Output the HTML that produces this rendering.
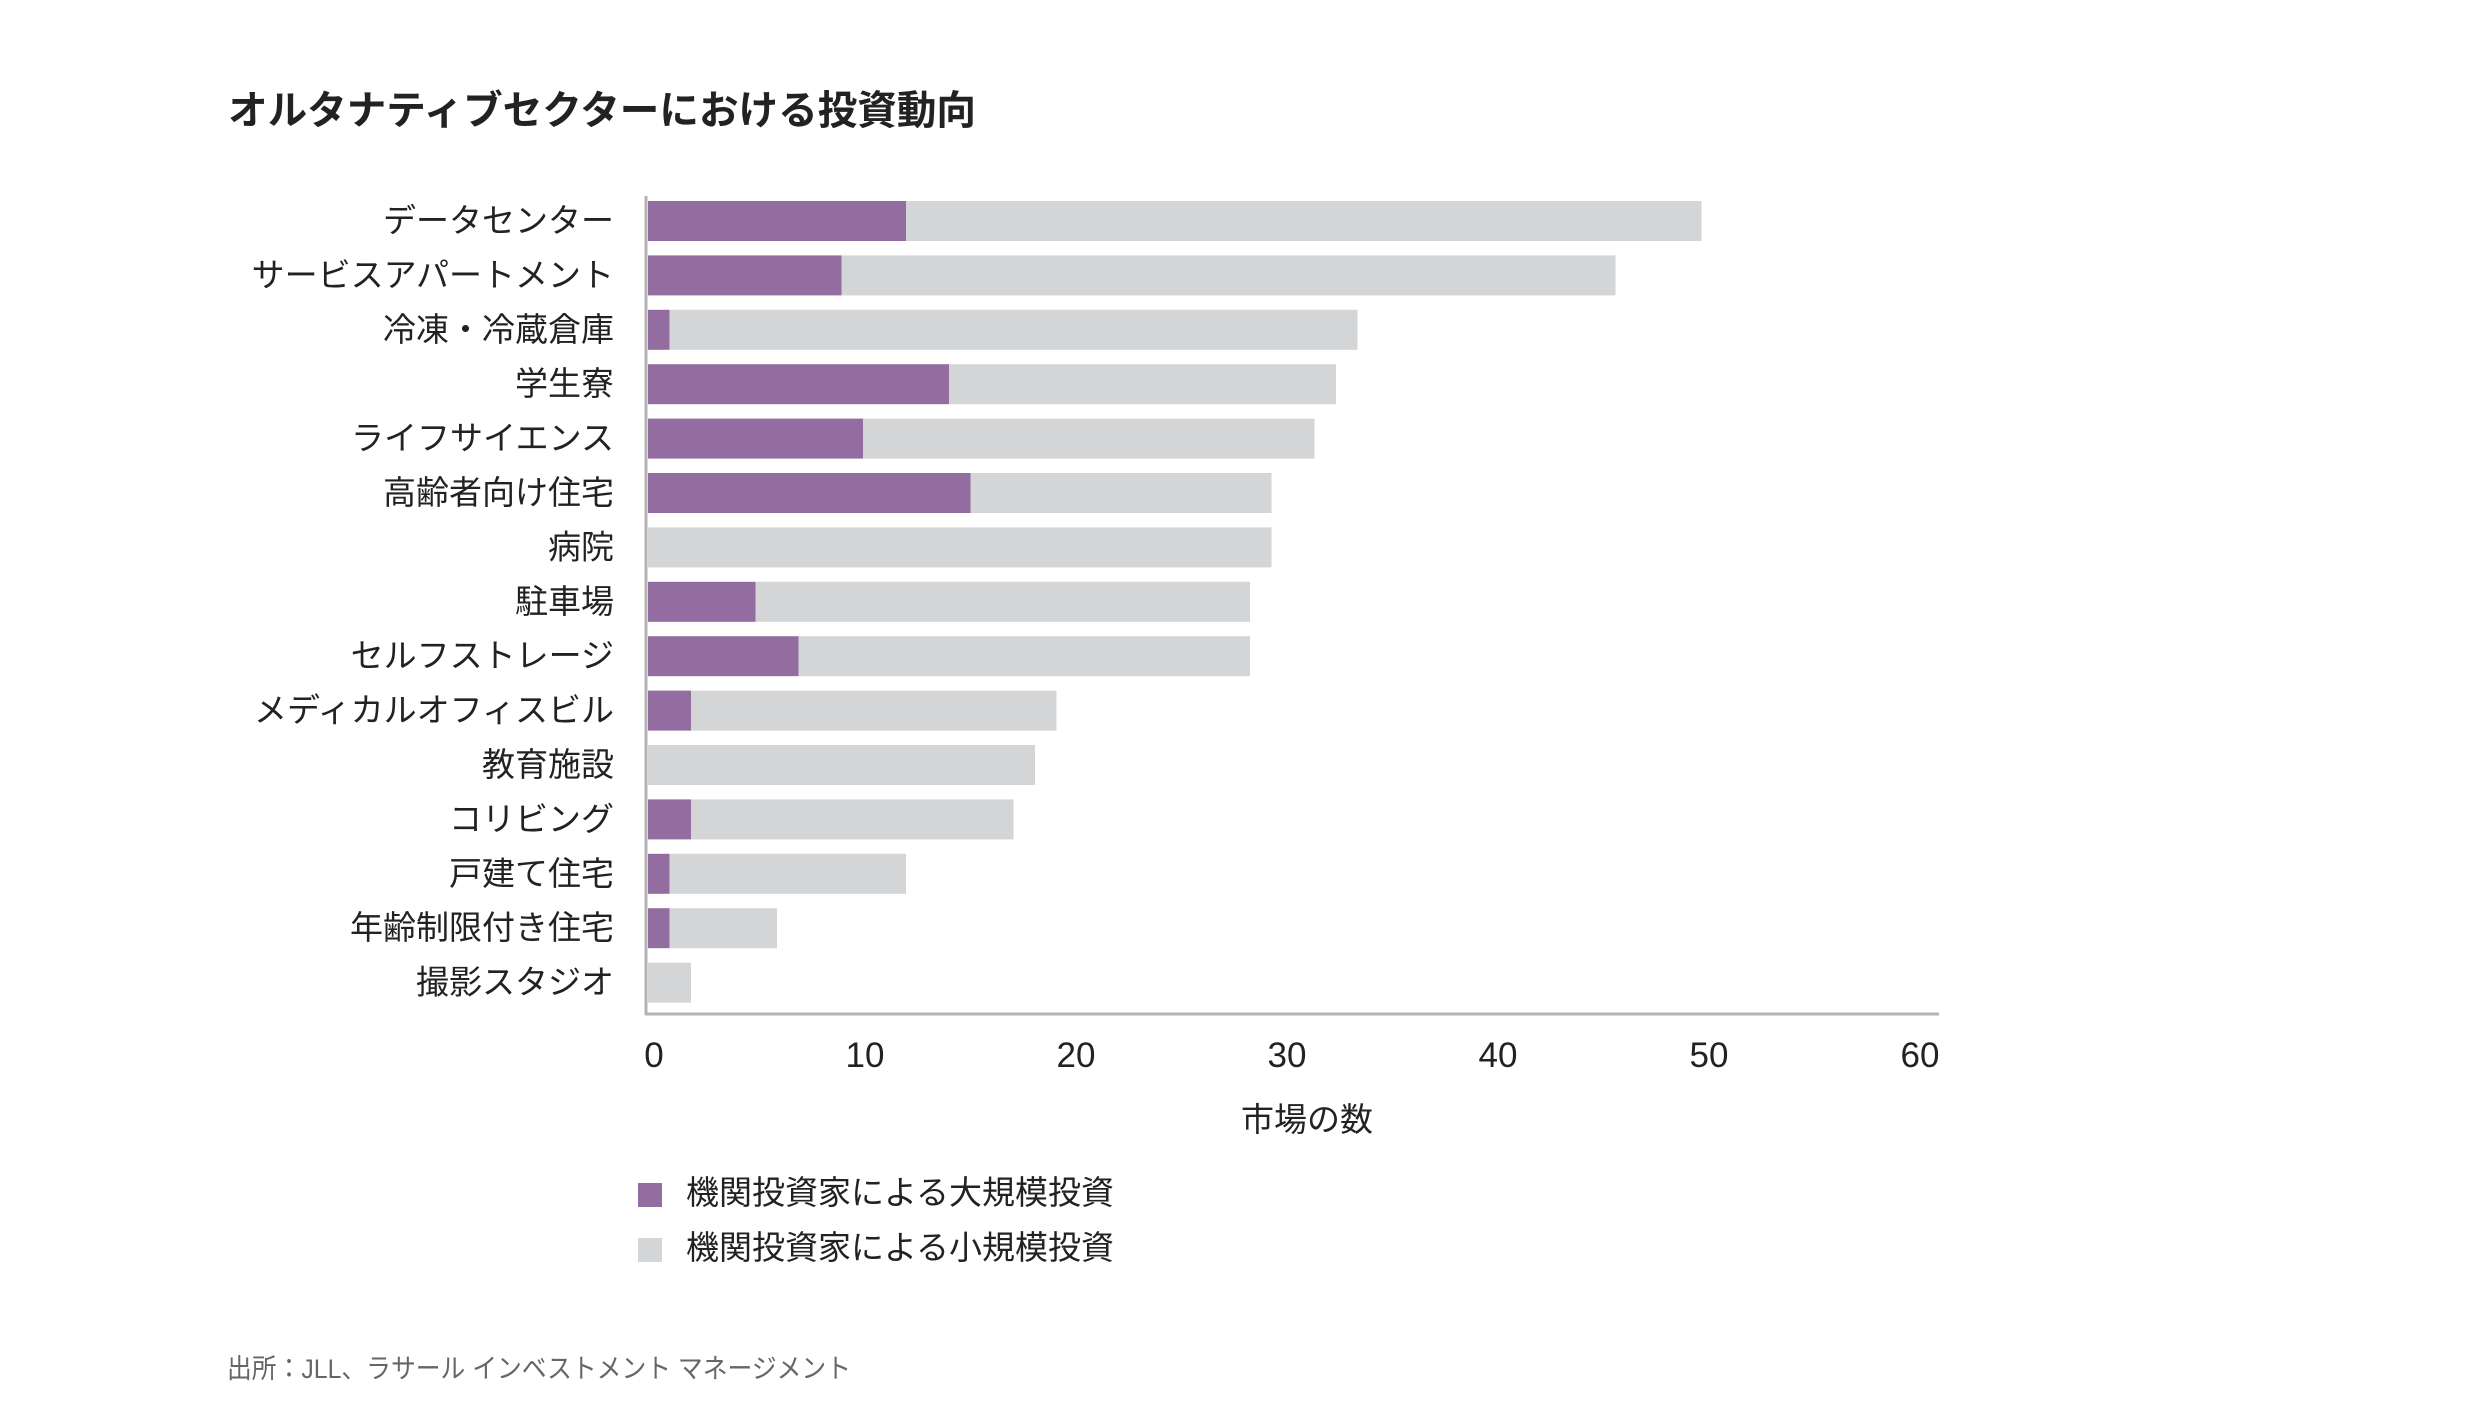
<!DOCTYPE html>
<html><head><meta charset="utf-8"><style>
html,body{margin:0;padding:0;background:#fff;}
svg{display:block;font-family:"Liberation Sans","Noto Sans CJK JP",sans-serif;}
</style></head><body>
<svg id="chart" width="2480" height="1427" viewBox="0 0 2480 1427" xmlns="http://www.w3.org/2000/svg">
<text x="228" y="124" font-size="40" font-weight="bold" fill="#222" textLength="748" lengthAdjust="spacingAndGlyphs">オルタナティブセクターにおける投資動向</text>
<g id="bars"></g>
<g id="ylabels"></g>
<g id="xticks"></g>
<line x1="646" y1="196" x2="646" y2="1015" stroke="#b3b3b3" stroke-width="3"/>
<line id="xaxis" x1="645" y1="1014" x2="1939" y2="1014" stroke="#b3b3b3" stroke-width="3"/>
<text x="1307" y="1131" font-size="33" fill="#222" text-anchor="middle">市場の数</text>
<g>
<rect x="638" y="1183" width="24" height="24" fill="#936d9f"/>
<text x="686" y="1204" font-size="33" fill="#222">機関投資家による大規模投資</text>
<rect x="638" y="1238" width="24" height="24" fill="#d4d5d7"/>
<text x="686" y="1259" font-size="33" fill="#222">機関投資家による小規模投資</text>
</g>
<text x="227" y="1378" font-size="27" fill="#666" textLength="624" lengthAdjust="spacingAndGlyphs">出所：JLL、ラサール インベストメント マネージメント</text>
</svg>
<script>
const categories = ["データセンター","サービスアパートメント","冷凍・冷蔵倉庫","学生寮","ライフサイエンス","高齢者向け住宅","病院","駐車場","セルフストレージ","メディカルオフィスビル","教育施設","コリビング","戸建て住宅","年齢制限付き住宅","撮影スタジオ"];
const largeValues = [12,9,1,14,10,15,0,5,7,2,0,2,1,1,0];
const smallValues = [37,36,32,18,21,14,29,23,21,17,18,15,11,5,2];
const tickValues = [0,10,20,30,40,50,60];
const tickLabels = ["0","10","20","30","40","50","60"];

const NS = "http://www.w3.org/2000/svg";
const x0 = 648, unit = 21.5;
function xScale(v){ return x0 + v*unit; }
const rowTop = 201, rowPitch = 54.4, barH = 40;
function yScale(i){ return rowTop + i*rowPitch; }

const bars = document.getElementById('bars');
const yl = document.getElementById('ylabels');
categories.forEach((c,i)=>{
  const y = yScale(i);
  const total = largeValues[i] + smallValues[i];
  const g = document.createElementNS(NS,'rect');
  g.setAttribute('x', xScale(largeValues[i]));
  g.setAttribute('y', y);
  g.setAttribute('width', xScale(total)-xScale(largeValues[i]));
  g.setAttribute('height', barH);
  g.setAttribute('fill', '#d4d5d7');
  
  
  bars.appendChild(g);
  if (largeValues[i] > 0) {
    const p = document.createElementNS(NS,'rect');
    p.setAttribute('x', xScale(0));
    p.setAttribute('y', y);
    p.setAttribute('width', xScale(largeValues[i])-xScale(0));
    p.setAttribute('height', barH);
    p.setAttribute('fill', '#936d9f');
    
    
    bars.appendChild(p);
  }
  const t = document.createElementNS(NS,'text');
  t.setAttribute('x', 614);
  t.setAttribute('y', y + barH/2 + 11);
  t.setAttribute('font-size', '33');
  t.setAttribute('fill', '#222');
  t.setAttribute('text-anchor', 'end');
  t.textContent = c;
  
  
  yl.appendChild(t);
});

const xt = document.getElementById('xticks');
tickValues.forEach((v,i)=>{
  const t = document.createElementNS(NS,'text');
  t.setAttribute('x', 654 + (xScale(v)-x0)*(1266/1290));
  t.setAttribute('y', 1067);
  t.setAttribute('font-size', '35');
  t.setAttribute('fill', '#222');
  t.setAttribute('text-anchor', 'middle');
  t.textContent = tickLabels[i];
  
  
  xt.appendChild(t);
});
const xa = document.getElementById('xaxis');
xa.setAttribute('x2', xScale(tickValues[tickValues.length-1]) + 1);
</script>
</body></html>
